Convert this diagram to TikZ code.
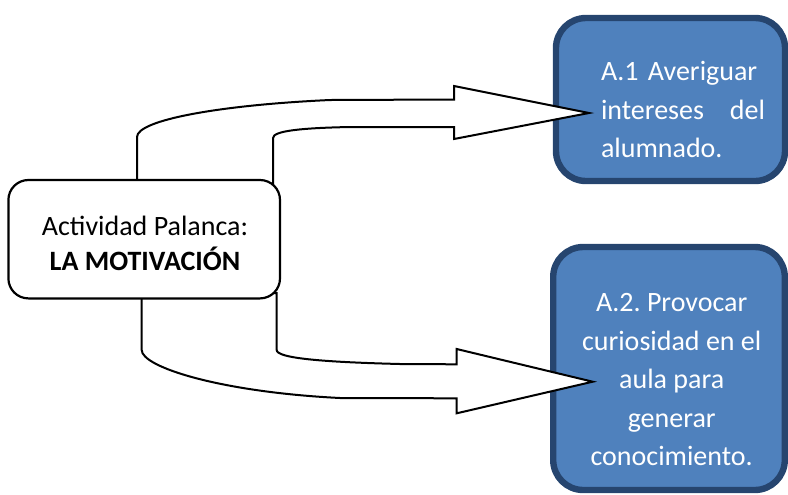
\documentclass[tikz,border=0pt]{standalone}
\usepackage{fontspec}
\setmainfont{Carlito}
\frenchspacing
\definecolor{boxfill}{HTML}{4F81BD}
\definecolor{boxline}{HTML}{26456F}
\tikzset{
  bluebox/.style={draw=boxline, fill=boxfill, line width=3.2pt, rounded corners=15pt, inner sep=0pt},
  whitebox/.style={draw=black, fill=white, line width=1.1pt, rounded corners=10pt, inner sep=0pt},
  bluetext/.style={text=white, inner sep=0pt, font=\fontsize{14}{19.25}\selectfont},
  blocarrow/.style={draw=black, fill=white, line width=1pt, line join=miter},
}
\begin{document}
\begin{tikzpicture}[x=0.5pt,y=-0.5pt]
\useasboundingbox (0,0) rectangle (788,494);
% blue boxes
\node[bluebox, minimum width=114.5pt, minimum height=81.5pt] (a1) at (670.5,99.5) {};
\node[bluebox, minimum width=115.8pt, minimum height=121.5pt] (a2) at (669,368.5) {};
% block arrows
\path[blocarrow] (137,185) -- (137,137) .. controls (137,120) and (220,105) .. (330,100)
  -- (454,99.5) -- (454,86) -- (589,113) -- (454,139) -- (454,127) -- (350,127)
  .. controls (300,128) and (273,131) .. (273,138) -- (273,185) -- cycle;
\path[blocarrow] (141.7,293) -- (141.7,350) .. controls (141.7,367) and (220,392) .. (340,398)
  -- (456.7,398.3) -- (456.7,413.3) -- (592.7,381.7) -- (456.7,349) -- (456.7,364.3) -- (400,364)
  .. controls (320,362) and (276.7,358) .. (276.7,350) -- (276.7,293) -- cycle;
% left box
\node[whitebox, minimum width=135.8pt, minimum height=59.2pt] (src) at (144.2,239.2) {};
\node[inner sep=0pt, align=center, font=\fontsize{14}{17.5}\selectfont] (srct) at (145,243)
  {Actividad Palanca:\\ \textbf{LA MOTIVACIÓN}};
% texts of blue boxes
\node[bluetext, text width=82pt, align=left] (a1t) at (683,109.5)
  {A.1 Averiguar\\ intereses\hfill del\\ alumnado.};
\node[bluetext, align=center] (a2t) at (671.7,379.7)
  {A.2. Provocar\\ curiosidad en el\\ aula para\\ generar\\ conocimiento.};
\end{tikzpicture}
\end{document}
